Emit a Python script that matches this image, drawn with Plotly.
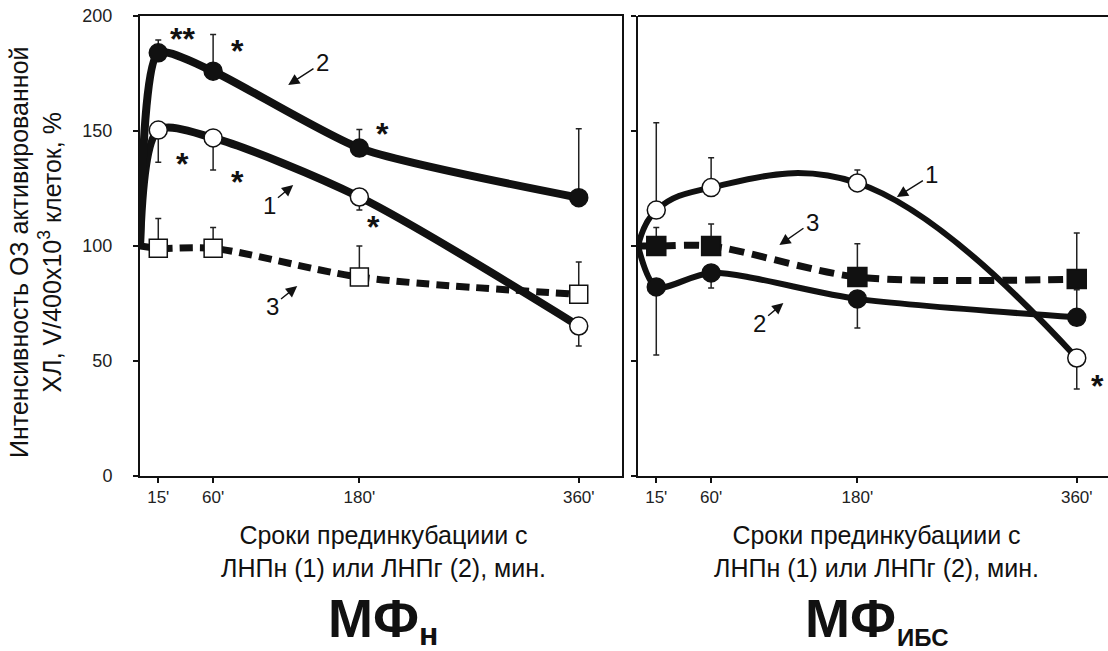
import plotly.graph_objects as go

# ---------------- data ----------------
times = [15, 60, 180, 360]
tick_text = ["15'", "60'", "180'", "360'"]
start_t = 0
start_v = 100

# Left panel (МФн)
L1 = [150.4, 147.0, 121.3, 65.2]      # open circles, ЛНПн
L1_plus = [0, 0, 0, 0]
L1_minus = [14, 14, 5.6, 8.7]
L2 = [184.0, 176.0, 142.6, 121.0]     # filled circles, ЛНПг
L2_plus = [5.6, 16, 8, 30]
L2_minus = [0, 0, 0, 0]
L3 = [99.0, 99.0, 86.5, 79.0]         # open squares, control
L3_plus = [13, 9, 13.5, 14]
L3_minus = [0, 0, 0, 0]

# Right panel (МФибс)
R1 = [115.6, 125.4, 127.4, 51.3]
R1_plus = [38, 13, 5.6, 0]
R1_minus = [0, 0, 0, 13.5]
R2 = [82.2, 88.3, 77.0, 69.0]
R2_plus = [0, 0, 0, 12]
R2_minus = [29.6, 6.6, 12.7, 0]
R3 = [100.0, 100.0, 86.5, 85.6]
R3_plus = [8, 9.6, 14.5, 20]
R3_minus = [0, 0, 0, 0]

y_ticks = [0, 50, 100, 150, 200]

# significance marks: (panel, x, y, text)
stars = [
    ("L", 34.5, 194, "**"), ("L", 80, 188.7, "*"), ("L", 34.5, 139.6, "*"),
    ("L", 80, 131.7, "*"), ("L", 199, 152.6, "*"), ("L", 191.5, 112.2, "*"),
    ("R", 376.7, 43, "*"),
]
# curve labels: (panel, text, tip_x, tip_y, text_x, text_y)
curve_labels = [
    ("L", "2", 121.6, 170, 149.6, 179.6),
    ("L", "1", 125.7, 126.5, 106, 117.8),
    ("L", "3", 129, 82.6, 108.5, 73.9),
    ("R", "1", 212.4, 121.3, 241, 130.9),
    ("R", "3", 116, 100.4, 143, 110.4),
    ("R", "2", 119.3, 75.2, 99.6, 66.5),
]

# ---------------- geometry ----------------
W, H = 1108, 651
ML, MR, MT, MB = 140, 0, 16, 175
PW, PH = W - ML - MR, H - MT - MB


def px(xp):
    return (xp - ML) / PW


def py(yp):
    return (H - MB - yp) / PH


FONT = "Liberation Sans, Arial, sans-serif"
BLACK = "#111111"

fig = go.Figure()


def add_series(xa, ya, vals, plus, minus, lw, dash, symbol, fill, msize, smooth):
    fig.add_trace(go.Scatter(
        x=[start_t] + times, y=[start_v] + vals, mode="lines",
        line=dict(color=BLACK, width=lw, dash=dash, shape="spline", smoothing=smooth),
        xaxis=xa, yaxis=ya, showlegend=False, hoverinfo="skip"))
    return dict(x=times, y=vals, plus=plus, minus=minus, symbol=symbol,
                fill=fill, msize=msize, xa=xa, ya=ya)


marker_sets = []
marker_sets.append(add_series("x", "y", L3, L3_plus, L3_minus, 7, "13px,7px", "square", "white", 18, 0.8))
marker_sets.append(add_series("x", "y", L1, L1_plus, L1_minus, 8, "solid", "circle", "white", 18, 0.8))
marker_sets.append(add_series("x", "y", L2, L2_plus, L2_minus, 8, "solid", "circle", BLACK, 18, 0.6))
marker_sets.append(add_series("x2", "y2", R3, R3_plus, R3_minus, 7, "15px,8px", "square", BLACK, 19, 0.8))
marker_sets.append(add_series("x2", "y2", R2, R2_plus, R2_minus, 6, "solid", "circle", BLACK, 18, 0.8))
marker_sets.append(add_series("x2", "y2", R1, R1_plus, R1_minus, 6, "solid", "circle", "white", 18, 1.2))

for m in marker_sets:
    fig.add_trace(go.Scatter(
        x=m["x"], y=m["y"], mode="markers",
        marker=dict(symbol=m["symbol"], size=m["msize"], color=m["fill"],
                    line=dict(color=BLACK, width=1.5)),
        error_y=dict(type="data", symmetric=False, array=m["plus"], arrayminus=m["minus"],
                     color="#222222", thickness=1.5, width=3),
        xaxis=m["xa"], yaxis=m["ya"], showlegend=False, hoverinfo="skip"))

annotations = []
for panel, xs, ys, t in stars:
    ax = "x" if panel == "L" else "x2"
    ay = "y" if panel == "L" else "y2"
    annotations.append(dict(x=xs, y=ys, xref=ax, yref=ay, text="<b>" + t + "</b>", showarrow=False,
                            xanchor="center", yanchor="middle",
                            font=dict(family=FONT, size=32, color=BLACK), yshift=-9))
for panel, t, tx, ty, lx, ly in curve_labels:
    ax = "x" if panel == "L" else "x2"
    ay = "y" if panel == "L" else "y2"
    annotations.append(dict(x=tx, y=ty, xref=ax, yref=ay, ax=lx, ay=ly, axref=ax, ayref=ay,
                            text=t, showarrow=True, arrowhead=2, arrowsize=1.6, arrowwidth=1.4,
                            arrowcolor=BLACK, standoff=0, startstandoff=1,
                            font=dict(family=FONT, size=24, color=BLACK)))


def paper_note(cx, cy, text, size, bold=False, angle=0, yanchor="middle", yshift=0):
    return dict(x=px(cx), y=py(cy), xref="paper", yref="paper",
                text=("<b>%s</b>" % text) if bold else text, textangle=angle,
                showarrow=False, xanchor="center", yanchor=yanchor, align="center",
                yshift=yshift, font=dict(family=FONT, size=size, color=BLACK))


# axis titles
xt = "Сроки прединкубациии с<br>ЛНПн (1) или ЛНПг (2), мин."
for cx in (383, 876):
    annotations.append(paper_note(cx, 551, xt, 25))
annotations.append(paper_note(36, 252, "Интенсивность ОЗ активированной<br>ХЛ, V/400x10<sup>3</sup> клеток, %",
                              25, angle=-90))
# panel names (bottom-anchored so the boxes stay inside the page)
annotations.append(paper_note(373, 650, "МФ", 54, bold=True, yanchor="bottom"))
annotations.append(paper_note(428, 650, "н", 32, bold=True, yanchor="bottom", yshift=-4))
annotations.append(paper_note(850, 650, "МФ", 54, bold=True, yanchor="bottom"))
annotations.append(paper_note(923, 650, "ИБС", 24, bold=True, yanchor="bottom", yshift=-3))

x_right_end = (W - 638.8) / 1.2167
common_x = dict(tickvals=times, ticktext=tick_text, ticks="outside", ticklen=5, tickwidth=2,
                tickcolor=BLACK, showgrid=False, zeroline=False, showline=True, linecolor=BLACK,
                linewidth=2, tickfont=dict(family=FONT, size=17, color="#222222"),
                ticklabelstandoff=0)
common_y = dict(range=[0, 200], tickvals=y_ticks, ticks="outside", ticklen=5, tickwidth=2,
                tickcolor=BLACK, showgrid=False, zeroline=False, showline=True, linecolor=BLACK,
                linewidth=2, tickfont=dict(family=FONT, size=18, color="#222222"))

fig.update_layout(
    width=W, height=H, margin=dict(l=ML, r=MR, t=MT, b=MB),
    paper_bgcolor="white", plot_bgcolor="white",
    xaxis=dict(domain=[0, px(622)], range=[0, (622 - 140.8) / 1.2167], mirror=True, **common_x),
    yaxis=dict(anchor="x", mirror=True, ticklabelstandoff=17, **common_y),
    xaxis2=dict(domain=[px(638), 1], range=[0, x_right_end], anchor="y2", mirror=False, **common_x),
    yaxis2=dict(anchor="x2", showticklabels=False, mirror=False, **common_y),
    annotations=annotations,
    shapes=[dict(type="line", xref="x2 domain", yref="y2 domain", x0=0, x1=1.05, y0=1, y1=1,
                 line=dict(color=BLACK, width=2))],
)

fig.write_html("out.html", config={"displayModeBar": False},
               post_script="document.body.style.margin='0px';document.body.style.overflow='hidden';")
